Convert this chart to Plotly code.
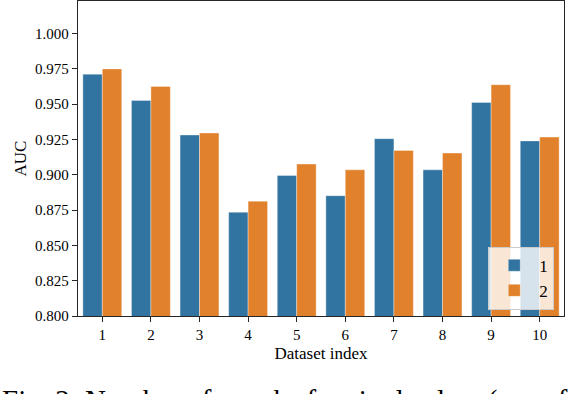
import plotly.graph_objects as go

# colours (seaborn desaturated tab10)
SNS_BLUE = "#3274a1"
SNS_ORANGE = "#e1812c"
AXIS_DARK = "#262626"
SERIF = "Liberation Serif, Times New Roman, serif"

datasets = ["1", "2", "3", "4", "5", "6", "7", "8", "9", "10"]
auc_1 = [0.9713, 0.9527, 0.9282, 0.8735, 0.8995, 0.8852, 0.9256, 0.9035, 0.9513, 0.9240]
auc_2 = [0.9750, 0.9626, 0.9296, 0.8813, 0.9076, 0.9035, 0.9173, 0.9154, 0.9638, 0.9267]
y_ticks = [0.800, 0.825, 0.850, 0.875, 0.900, 0.925, 0.950, 0.975, 1.000]

fig = go.Figure()

fig.add_trace(go.Bar(
    x=datasets, y=auc_1, name="1",
    marker_color=SNS_BLUE,
    marker_line=dict(color="rgba(255,255,255,0.35)", width=1),
))
fig.add_trace(go.Bar(
    x=datasets, y=auc_2, name="2",
    marker_color=SNS_ORANGE,
    marker_line=dict(color="rgba(255,255,255,0.35)", width=1),
))

axis_style = dict(
    showline=True, linecolor=AXIS_DARK, linewidth=1.3, mirror=True,
    ticks="outside", ticklen=5, tickwidth=1.1, tickcolor=AXIS_DARK,
    showgrid=False, zeroline=False, automargin=False,
    tickfont=dict(family=SERIF, size=15, color="#000"),
)

fig.update_xaxes(
    **axis_style,
    title=dict(text="Dataset index", font=dict(family=SERIF, size=17, color="#000"), standoff=4),
)
fig.update_yaxes(
    **axis_style,
    range=[0.8, 1.0231],
    tickvals=y_ticks,
    tickformat=".3f",
    title=dict(text="AUC", font=dict(family=SERIF, size=17, color="#000"), standoff=4),
)

# cropped figure caption from the paper, bottom of the page
fig.add_annotation(
    text="Fig. 2: Number of epochs for single class (use of f",
    xref="paper", yref="paper", x=0, y=0,
    xanchor="left", yanchor="top", xshift=-78, yshift=-66,
    showarrow=False, font=dict(family=SERIF, size=29, color="#000"),
)

fig.update_layout(
    width=574, height=394,
    margin=dict(l=78, r=10, t=1, b=78),
    barmode="group", bargap=0.2, bargroupgap=0,
    plot_bgcolor="white", paper_bgcolor="white",
    font=dict(family=SERIF, color="#000"),
    showlegend=True,
    legend=dict(
        x=0.98, y=0.02, xanchor="right", yanchor="bottom",
        bgcolor="rgba(255,255,255,0.8)", bordercolor="#cccccc", borderwidth=1,
        font=dict(family=SERIF, size=17, color="#000"),
        itemwidth=40,
    ),
)

# drop the browser's default body margin so the figure sits at the page corner
fig.write_html(
    "out.html",
    config={"displayModeBar": False},
    post_script="document.body.style.margin='0';",
)
